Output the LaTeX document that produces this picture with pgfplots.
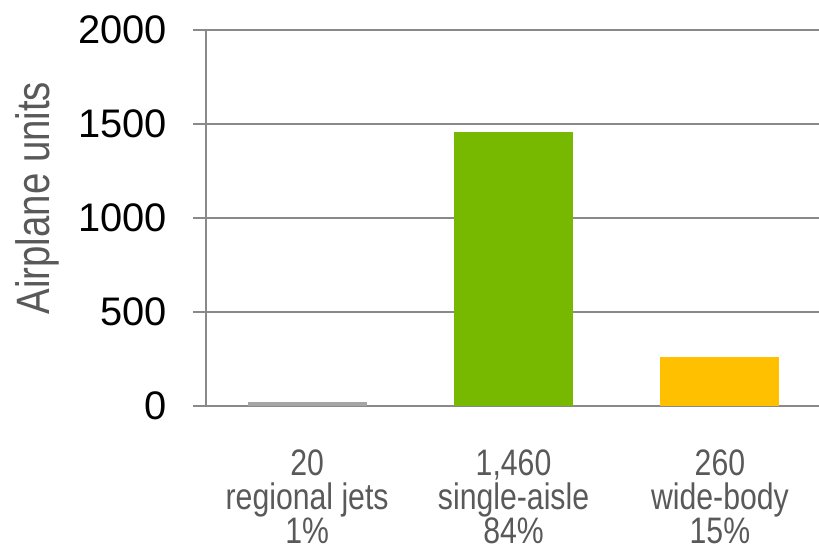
\documentclass[border=0pt]{standalone}
\usepackage{pgfplots}
\pgfplotsset{compat=1.18}
\usepackage{fontspec}
\setmainfont{Liberation Sans}
\newfontfamily\narrow[FakeStretch=0.82]{Liberation Sans}
\definecolor{gridgray}{HTML}{898989}
\definecolor{txtgray}{HTML}{595959}
\definecolor{barGray}{HTML}{A5A5A5}
\definecolor{barGreen}{HTML}{76B900}
\definecolor{barOrange}{HTML}{FFC000}
\begin{document}
\begin{tikzpicture}
\begin{axis}[
  scale only axis,
  width=613bp, height=376bp,
  xmin=-0.49, xmax=2.48,
  ymin=0, ymax=2000,
  ytick={0,500,1000,1500,2000},
  xtick={0,1,2},
  xticklabels={{20\\regional jets\\1\%},{1,460\\single-aisle\\84\%},{260\\wide-body\\15\%}},
  axis lines*=left,
  x axis line style={draw=none},
  y axis line style={gridgray, line width=1.3pt, -},
  ymajorgrids,
  grid style={gridgray, line width=1.3pt},
  ytick style={gridgray, line width=1.3pt},
  xtick style={draw=none},
  tick align=outside,
  major tick length=13bp,
  /pgf/number format/assume math mode=true,
  /pgf/number format/1000 sep={},
  yticklabel style={font=\fontsize{40}{40}\selectfont, text=black, inner sep=0pt, xshift=-26bp},
  xticklabel style={font=\narrow\fontsize{37}{34}\selectfont, text=txtgray, align=center, anchor=north, inner sep=0pt, yshift=-31bp},
  clip=false,
  ylabel={Airplane units},
  ylabel style={font=\narrow\fontsize{47}{47}\selectfont, text=txtgray, inner sep=0pt,
    at={(axis description cs:-0.2545,0.553)}, anchor=base, rotate=0},
]
\addplot[ybar, bar width=0.576, fill=barGray, draw=none] coordinates {(0,20)};
\addplot[ybar, bar width=0.576, fill=barGreen, draw=none] coordinates {(1,1460)};
\addplot[ybar, bar width=0.576, fill=barOrange, draw=none] coordinates {(2,260)};
\end{axis}
\pgfresetboundingbox
\path (current axis.south west) ++(-206bp,-143bp) rectangle ++(819bp,549bp);
\end{tikzpicture}
\end{document}
